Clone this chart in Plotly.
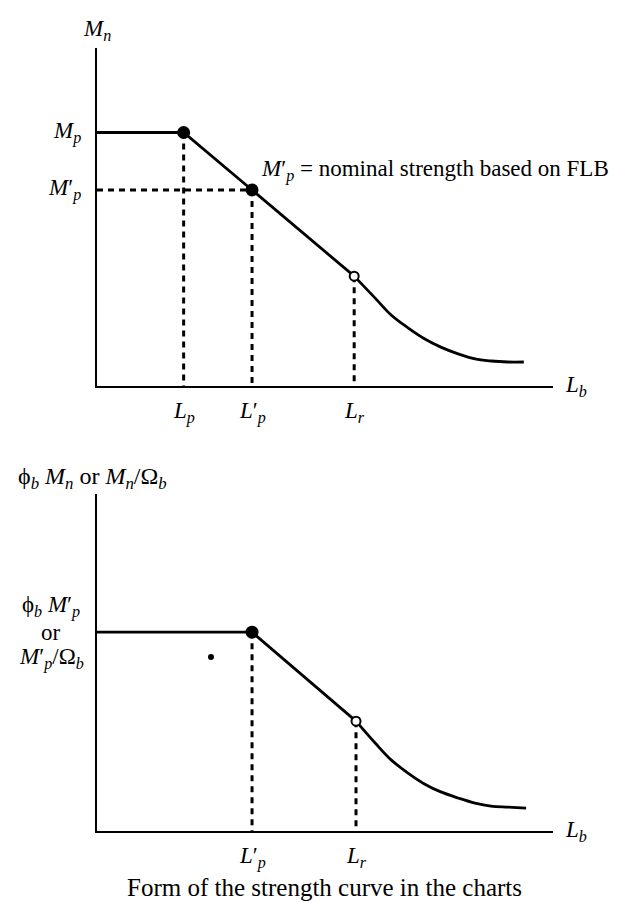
import plotly.graph_objects as go

# top panel (Mn vs Lb), axis units 0..10 on both axes
top_Lp = 1.9
top_Lp_prime = 3.4
top_Lr = 5.64
top_Mp = 7.5
top_Mp_prime = 5.8
top_Mr = 3.25
top_curve_x = [5.64, 6.10, 6.45, 6.82, 7.19, 7.54, 7.92, 8.29, 8.64, 9.01, 9.36]
top_curve_y = [3.25, 2.60, 2.10, 1.72, 1.39, 1.15, 0.95, 0.80, 0.74, 0.71, 0.71]

# bottom panel (design strength vs Lb)
bot_Lp_prime = 3.4
bot_Lr = 5.68
bot_level = 5.9
bot_Mr = 3.26
bot_curve_x = [5.68, 6.10, 6.45, 6.82, 7.19, 7.54, 7.92, 8.29, 8.64, 9.01, 9.41]
bot_curve_y = [3.26, 2.61, 2.11, 1.72, 1.39, 1.16, 0.98, 0.83, 0.74, 0.71, 0.68]
stray_dot = (2.5, 5.16)

top_ticks = ['<i>L</i><sub><i>p</i></sub>', '<i>L</i>′<sub><i>p</i></sub>', '<i>L</i><sub><i>r</i></sub>']
bot_ticks = ['<i>L</i>′<sub><i>p</i></sub>', '<i>L</i><sub><i>r</i></sub>']
bot_ylabel_lines = ['ϕ<sub><i>b</i></sub> <i>M</i>′<sub><i>p</i></sub>', 'or',
                    '<i>M</i>′<sub><i>p</i></sub>/Ω<sub><i>b</i></sub>']

SERIF = 'Liberation Serif'
BLACK = '#000000'
W, H = 629, 903
MATH = 23

fig = go.Figure()


def solid(x, y, xa, ya, shape='linear'):
    fig.add_trace(go.Scatter(x=x, y=y, mode='lines', xaxis=xa, yaxis=ya,
                             line=dict(color=BLACK, width=2.8, shape=shape),
                             hoverinfo='skip'))


def dashed(x, y, xa, ya):
    fig.add_trace(go.Scatter(x=x, y=y, mode='lines', xaxis=xa, yaxis=ya,
                             line=dict(color=BLACK, width=3, dash='6px,5px'),
                             hoverinfo='skip'))


def dot(x, y, xa, ya, filled=True, size=11):
    fig.add_trace(go.Scatter(x=[x], y=[y], mode='markers', xaxis=xa, yaxis=ya,
                             marker=dict(size=size, color=BLACK if filled else 'white',
                                         line=dict(color=BLACK, width=2)),
                             hoverinfo='skip'))


### top panel
dashed([top_Lp, top_Lp], [top_Mp, 0], 'x', 'y')
dashed([top_Lp_prime, top_Lp_prime], [top_Mp_prime, 0], 'x', 'y')
dashed([top_Lr, top_Lr], [top_Mr, 0], 'x', 'y')
dashed([0, top_Lp_prime], [top_Mp_prime, top_Mp_prime], 'x', 'y')
solid([0, top_Lp, top_Lp_prime, top_Lr], [top_Mp, top_Mp, top_Mp_prime, top_Mr], 'x', 'y')
solid(top_curve_x, top_curve_y, 'x', 'y', shape='spline')
dot(top_Lp, top_Mp, 'x', 'y')
dot(top_Lp_prime, top_Mp_prime, 'x', 'y')
dot(top_Lr, top_Mr, 'x', 'y', filled=False, size=9)

### bottom panel
dashed([bot_Lp_prime, bot_Lp_prime], [bot_level, 0], 'x2', 'y2')
dashed([bot_Lr, bot_Lr], [bot_Mr, 0], 'x2', 'y2')
solid([0, bot_Lp_prime, bot_Lr], [bot_level, bot_level, bot_Mr], 'x2', 'y2')
solid(bot_curve_x, bot_curve_y, 'x2', 'y2', shape='spline')
dot(bot_Lp_prime, bot_level, 'x2', 'y2')
dot(bot_Lr, bot_Mr, 'x2', 'y2', filled=False, size=9)
dot(stray_dot[0], stray_dot[1], 'x2', 'y2', size=4)

# axes: plain lines on the left/bottom only
x_dom = [89 / W, 545 / W]
ax = dict(range=[0, 10], showline=True, linecolor=BLACK, linewidth=1.5,
          showgrid=False, zeroline=False, showticklabels=False, ticks='', fixedrange=True)

fig.update_layout(
    width=W, height=H,
    margin=dict(l=0, r=0, t=0, b=0),
    paper_bgcolor='white', plot_bgcolor='white',
    showlegend=False,
    font=dict(family=SERIF, size=20, color=BLACK),
    xaxis=dict(ax, domain=x_dom, anchor='y'),
    yaxis=dict(ax, domain=[1 - 378 / H, 1 - 40 / H], anchor='x'),
    xaxis2=dict(ax, domain=x_dom, anchor='y2'),
    yaxis2=dict(ax, domain=[1 - 823 / H, 1 - 486 / H], anchor='x2'),
)

ann = []


def label(text, x, y, xref, yref, xanchor='center', yanchor='middle', xshift=0, yshift=0, size=MATH):
    ann.append(dict(text=text, x=x, y=y, xref=xref, yref=yref, xanchor=xanchor,
                    yanchor=yanchor, xshift=xshift, yshift=yshift, showarrow=False,
                    font=dict(family=SERIF, size=size, color=BLACK)))


# top labels
label('<i>M</i><sub><i>n</i></sub>', 0, 10, 'x', 'y', yanchor='bottom', yshift=2)
label('<i>M</i><sub><i>p</i></sub>', 0, top_Mp, 'x', 'y', xanchor='right', xshift=-14)
label('<i>M</i>′<sub><i>p</i></sub>', 0, top_Mp_prime, 'x', 'y', xanchor='right', xshift=-14)
label('<i>M</i>′<sub><i>p</i></sub> = nominal strength based on FLB', top_Lp_prime, top_Mp_prime,
      'x', 'y', xanchor='left', yanchor='bottom', xshift=7, yshift=3)
for t, xv in zip(top_ticks, [top_Lp, top_Lp_prime, top_Lr]):
    label(t, xv, 0, 'x', 'y', yanchor='top', yshift=-10)
label('<i>L</i><sub><i>b</i></sub>', 10, 0, 'x', 'y', xanchor='left', xshift=10)

# bottom labels
label('ϕ<sub><i>b</i></sub> <i>M</i><sub><i>n</i></sub> or <i>M</i><sub><i>n</i></sub>/Ω<sub><i>b</i></sub>',
      8 / W, 1 - 470 / H, 'paper', 'paper', xanchor='left', size=24)
for i, t in enumerate(bot_ylabel_lines):
    label(t, 43 / W, bot_level, 'paper', 'y2', yshift=26 * (1 - i))
for t, xv in zip(bot_ticks, [bot_Lp_prime, bot_Lr]):
    label(t, xv, 0, 'x2', 'y2', yanchor='top', yshift=-10)
label('<i>L</i><sub><i>b</i></sub>', 10, 0, 'x2', 'y2', xanchor='left', xshift=10)

label('Form of the strength curve in the charts', 317 / W, 1 - 879 / H, 'paper', 'paper', size=25)

fig.update_layout(annotations=ann)
fig.write_html('out.html')
